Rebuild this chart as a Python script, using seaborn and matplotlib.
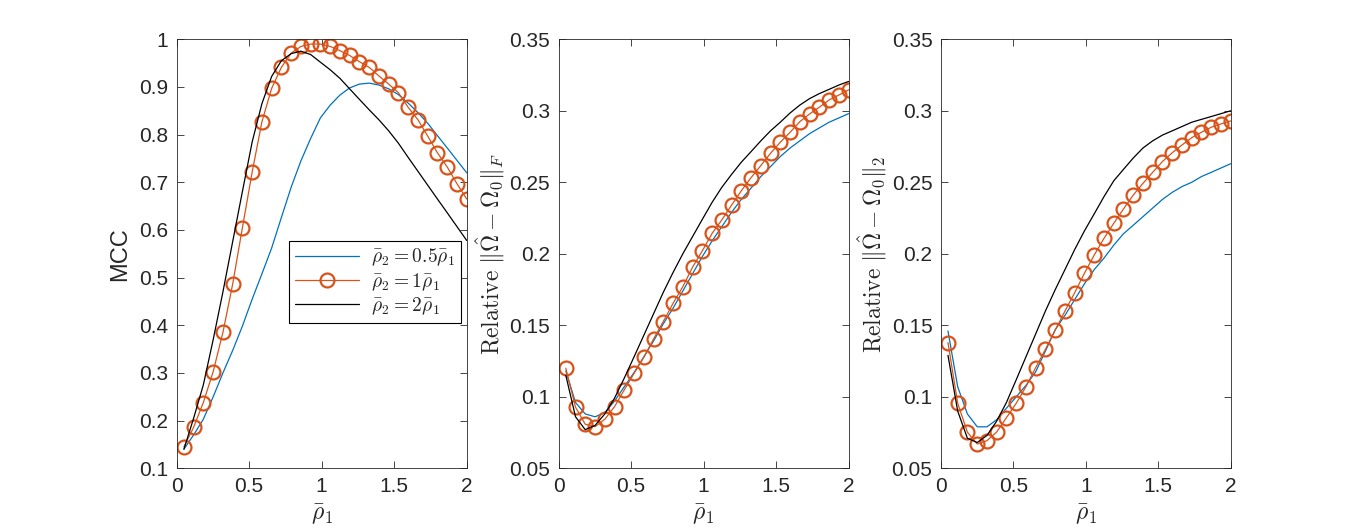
import numpy as np
import pandas as pd
import matplotlib
matplotlib.use('Agg')
import matplotlib.pyplot as plt
import seaborn as sns
from matplotlib.ticker import FuncFormatter

# rho_1 grid (30 points from 0.05 to 2)
rho1 = [0.05, 0.117, 0.184, 0.252, 0.319, 0.386, 0.453, 0.521, 0.588, 0.655,
        0.722, 0.79, 0.857, 0.924, 0.991, 1.059, 1.126, 1.193, 1.26, 1.328,
        1.395, 1.462, 1.529, 1.597, 1.664, 1.731, 1.798, 1.866, 1.933, 2.0]

# MCC
mcc_half = [0.14, 0.17, 0.203, 0.25, 0.30, 0.347, 0.398, 0.455, 0.508, 0.562,
            0.626, 0.69, 0.745, 0.792, 0.835, 0.862, 0.883, 0.898, 0.906, 0.908,
            0.904, 0.896, 0.884, 0.866, 0.846, 0.824, 0.798, 0.772, 0.746, 0.72]
mcc_one = [0.145, 0.186, 0.238, 0.303, 0.385, 0.486, 0.604, 0.722, 0.827, 0.897,
           0.941, 0.971, 0.985, 0.99, 0.99, 0.985, 0.976, 0.966, 0.953, 0.941,
           0.923, 0.906, 0.888, 0.857, 0.831, 0.797, 0.762, 0.732, 0.697, 0.665]
mcc_two = [0.14, 0.205, 0.275, 0.37, 0.47, 0.575, 0.68, 0.785, 0.865, 0.922,
           0.955, 0.97, 0.975, 0.968, 0.952, 0.936, 0.918, 0.896, 0.874, 0.852,
           0.831, 0.808, 0.782, 0.752, 0.723, 0.694, 0.665, 0.636, 0.607, 0.578]

# relative Frobenius error
fro_half = [0.118, 0.096, 0.088, 0.086, 0.089, 0.097, 0.107, 0.117, 0.128, 0.139,
            0.151, 0.162, 0.174, 0.186, 0.198, 0.209, 0.219, 0.229, 0.238, 0.246,
            0.254, 0.261, 0.268, 0.274, 0.279, 0.284, 0.288, 0.292, 0.295, 0.298]
fro_one = [0.120, 0.0927, 0.0808, 0.0791, 0.0843, 0.0931, 0.1048, 0.1164, 0.1276, 0.1404,
           0.1526, 0.1654, 0.177, 0.1906, 0.202, 0.2143, 0.2237, 0.234, 0.244, 0.2533,
           0.2617, 0.2703, 0.278, 0.285, 0.2924, 0.2978, 0.3025, 0.3076, 0.311, 0.3146]
fro_two = [0.115, 0.086, 0.077, 0.080, 0.088, 0.099, 0.113, 0.128, 0.143, 0.158,
           0.173, 0.187, 0.200, 0.212, 0.224, 0.236, 0.2465, 0.2555, 0.264, 0.2715,
           0.279, 0.286, 0.292, 0.2985, 0.304, 0.3085, 0.312, 0.315, 0.318, 0.3205]

# relative spectral error
spec_half = [0.146, 0.107, 0.088, 0.079, 0.079, 0.084, 0.092, 0.100, 0.108, 0.1175,
             0.132, 0.147, 0.157, 0.168, 0.179, 0.189, 0.197, 0.206, 0.214, 0.220,
             0.226, 0.232, 0.238, 0.243, 0.247, 0.250, 0.254, 0.257, 0.260, 0.263]
spec_one = [0.1379, 0.0955, 0.0752, 0.067, 0.0693, 0.0754, 0.0854, 0.0955, 0.1071, 0.1204,
            0.1332, 0.1467, 0.160, 0.1728, 0.1864, 0.1992, 0.2108, 0.2213, 0.2313, 0.2411,
            0.2493, 0.257, 0.2645, 0.2707, 0.2761, 0.2812, 0.285, 0.2885, 0.2908, 0.2929]
spec_two = [0.129, 0.090, 0.071, 0.068, 0.073, 0.083, 0.096, 0.112, 0.128, 0.144,
            0.160, 0.175, 0.189, 0.203, 0.216, 0.228, 0.240, 0.251, 0.259, 0.267,
            0.274, 0.279, 0.283, 0.286, 0.289, 0.292, 0.294, 0.296, 0.298, 0.300]

labels = [r'$\bar{\rho}_2 = 0.5\bar{\rho}_1$',
          r'$\bar{\rho}_2 = 1\bar{\rho}_1$',
          r'$\bar{\rho}_2 = 2\bar{\rho}_1$']
ylabels = ['MCC',
           r'$\mathrm{Relative}\ \Vert\hat{\Omega} - \Omega_0\Vert_F$',
           r'$\mathrm{Relative}\ \Vert\hat{\Omega} - \Omega_0\Vert_2$']

sns.set_style('ticks', {'xtick.direction': 'in', 'ytick.direction': 'in'})
plt.rcParams['font.family'] = ['Liberation Sans', 'DejaVu Sans']
plt.rcParams['mathtext.fontset'] = 'cm'

blue = '#0072BD'
orange = '#D95319'
axcol = '#262626'

fig = plt.figure(figsize=(13.61, 5.28), dpi=100)
lefts = [0.1298, 0.4104, 0.6912]
panels = [(mcc_half, mcc_one, mcc_two), (fro_half, fro_one, fro_two),
          (spec_half, spec_one, spec_two)]

for i, (half, one, two) in enumerate(panels):
    ax = fig.add_axes([lefts[i], 0.1131, 0.2131, 0.8125])
    sns.lineplot(x=rho1, y=half, ax=ax, color=blue, linewidth=0.9, label=labels[0])
    sns.lineplot(x=rho1, y=one, ax=ax, color=orange, linewidth=0.9, marker='o',
                 markersize=10, markerfacecolor='none', markeredgecolor=orange,
                 markeredgewidth=1.6, label=labels[1])
    sns.lineplot(x=rho1, y=two, ax=ax, color='black', linewidth=0.9, label=labels[2])

    ax.set_xlim(0, 2)
    ax.set_xticks([0, 0.5, 1, 1.5, 2])
    if i == 0:
        ax.set_ylim(0.1, 1)
        ax.set_yticks(np.arange(0.1, 1.01, 0.1))
        ax.set_ylabel(ylabels[i], fontsize=17, color=axcol, labelpad=6)
    else:
        ax.set_ylim(0.05, 0.35)
        ax.set_yticks(np.arange(0.05, 0.351, 0.05))
        ax.set_ylabel(ylabels[i], fontsize=17, color=axcol, labelpad=2)
    fmt = FuncFormatter(lambda v, p: '%g' % round(v, 3))
    ax.xaxis.set_major_formatter(fmt)
    ax.yaxis.set_major_formatter(fmt)
    ax.set_xlabel(r'$\bar{\rho}_1$', fontsize=17, color=axcol, labelpad=5)
    ax.tick_params(axis='both', which='both', direction='in', length=5, width=0.6,
                   top=True, right=True, labelsize=15, colors=axcol, pad=6)
    for s in ax.spines.values():
        s.set_visible(True)
        s.set_linewidth(0.6)
        s.set_color(axcol)

    if i == 0:
        leg = ax.legend(loc='lower left', bbox_to_anchor=(0.387, 0.339),
                        borderaxespad=0, fontsize=14, frameon=True, fancybox=False,
                        edgecolor='black', framealpha=1, handlelength=3.3,
                        borderpad=0.3, labelspacing=0.15, handletextpad=0.6)
        leg.get_frame().set_linewidth(0.8)
    else:
        ax.get_legend().remove()

fig.savefig('out.png', dpi=100)
